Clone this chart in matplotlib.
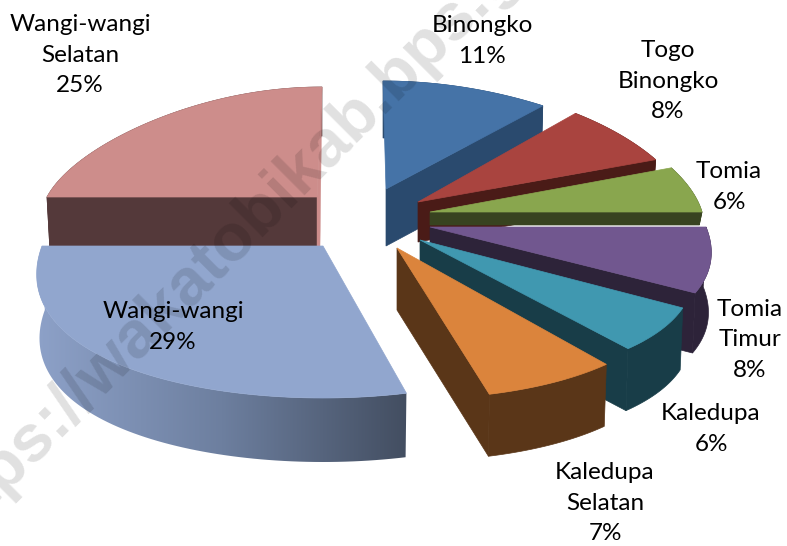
import numpy as np
import matplotlib
matplotlib.use("Agg")
import matplotlib.pyplot as plt
from matplotlib.patches import Polygon
from matplotlib.colors import LinearSegmentedColormap

# data
names = ["Binongko", "Togo\nBinongko", "Tomia", "Tomia\nTimur", "Kaledupa",
         "Kaledupa\nSelatan", "Wangi-wangi", "Wangi-wangi\nSelatan"]
values = [11, 8, 6, 8, 6, 7, 29, 25]

# look of each slice
top_colors = ["#4573A7", "#A9443F", "#89A64E", "#71578F", "#4098B0", "#DB843C", "#91A6CE", "#CD8D8B"]
wall_colors = ["#2A4A6E", "#4A1B17", "#384320", "#2D2339", "#183D48", "#5A3618", "#434E61", "#54393A"]
centers_x = [386, 418, 430, 430, 420, 397, 323, 317]
centers_y = [189, 202, 212, 227, 240, 248, 246, 197]
radii_x = [295, 269, 272, 276, 265, 272, 281, 270]
radii_y = [108, 115, 120, 137, 141, 151, 152, 110]
depths = [57, 40, 13, 60, 62, 62, 64, 49]
shears = [3, -16, -19, 0, 17, 12, 0, -5]
label_x = [482, 668, 729, 750, 711, 605, 173, 80]
label_y = [41, 81, 187, 340, 429, 503, 327, 55]

PERSPECTIVE = 0.2
WALL_SCALE = 0.99

fig = plt.figure(figsize=(7.87, 5.46), dpi=100)
ax = fig.add_axes([0, 0, 1, 1])


def project(i, theta):
    X = np.sin(theta)
    Y = -np.cos(theta)
    x = centers_x[i] + radii_x[i] * X * (1 + PERSPECTIVE * Y) + shears[i] * Y
    y = centers_y[i] + radii_y[i] * Y
    return np.column_stack([x, y])


def drop(i, pts):
    # same points at the bottom of the slice
    out = pts.copy()
    out[:, 0] = centers_x[i] + (out[:, 0] - centers_x[i]) * WALL_SCALE
    out[:, 1] = out[:, 1] + depths[i]
    return out


edges = np.radians(np.cumsum([0] + values) * 3.6)
apex = [np.array([[centers_x[i], centers_y[i]]], dtype=float) for i in range(len(values))]

# back to front
order = [7, 0, 1, 2, 3, 4, 5, 6]
for n, i in enumerate(order):
    theta = np.linspace(edges[i], edges[i + 1], 80)
    rim = project(i, theta)

    if i == 6:
        # big slice has a shaded outer wall
        wall = Polygon(np.vstack([rim, drop(i, rim)[::-1]]), closed=True, fc="none", ec="none", zorder=n * 3 + 1)
        ax.add_patch(wall)
        cmap = LinearSegmentedColormap.from_list("wall", ["#8DA1C8", "#6D7F9F", wall_colors[i]])
        im = ax.imshow(np.linspace(0, 1, 256)[None, :], cmap=cmap, aspect="auto",
                       extent=[rim[:, 0].min(), rim[:, 0].max(), 480, 240], zorder=n * 3 + 1)
        im.set_clip_path(wall)
    else:
        ax.add_patch(Polygon(np.vstack([rim, drop(i, rim)[::-1]]), closed=True,
                             fc=wall_colors[i], ec=wall_colors[i], lw=0.5, zorder=n * 3))
        # cut side of the slice
        side_pts = rim[0:1] if i == 7 else rim[-1:]
        side = np.vstack([apex[i], side_pts, drop(i, side_pts), drop(i, apex[i])])
        ax.add_patch(Polygon(side, closed=True, fc=wall_colors[i], ec=wall_colors[i], lw=0.5, zorder=n * 3))

    ax.add_patch(Polygon(np.vstack([apex[i], rim]), closed=True, fc=top_colors[i], ec=top_colors[i],
                         lw=0.5, zorder=n * 3 + 2))

    if i == 7:
        # thin back edge keeps the top colour
        foot = drop(i, apex[i])
        sliver = np.vstack([rim[-1:], foot + [3, 0], foot, apex[i]])
        ax.add_patch(Polygon(sliver, closed=True, fc=top_colors[i], ec=top_colors[i], lw=0.3, zorder=n * 3 + 2))

# watermark over the pie
ax.text(261, 210, "https://wakatobikab.bps.go.id", rotation=45, rotation_mode="anchor", ha="center", va="center",
        family="Liberation Sans", weight="bold", fontsize=48, color="black", alpha=0.12, zorder=50,
        clip_on=True)

for name, value, x, y in zip(names, values, label_x, label_y):
    ax.text(x, y, f"{name}\n{value}%", ha="center", va="center", family="Lato", fontsize=17.5,
            linespacing=1.55, color="black", zorder=60)

ax.set_xlim(0, 787)
ax.set_ylim(546, 0)
ax.axis("off")
fig.savefig("out.png", dpi=100)
